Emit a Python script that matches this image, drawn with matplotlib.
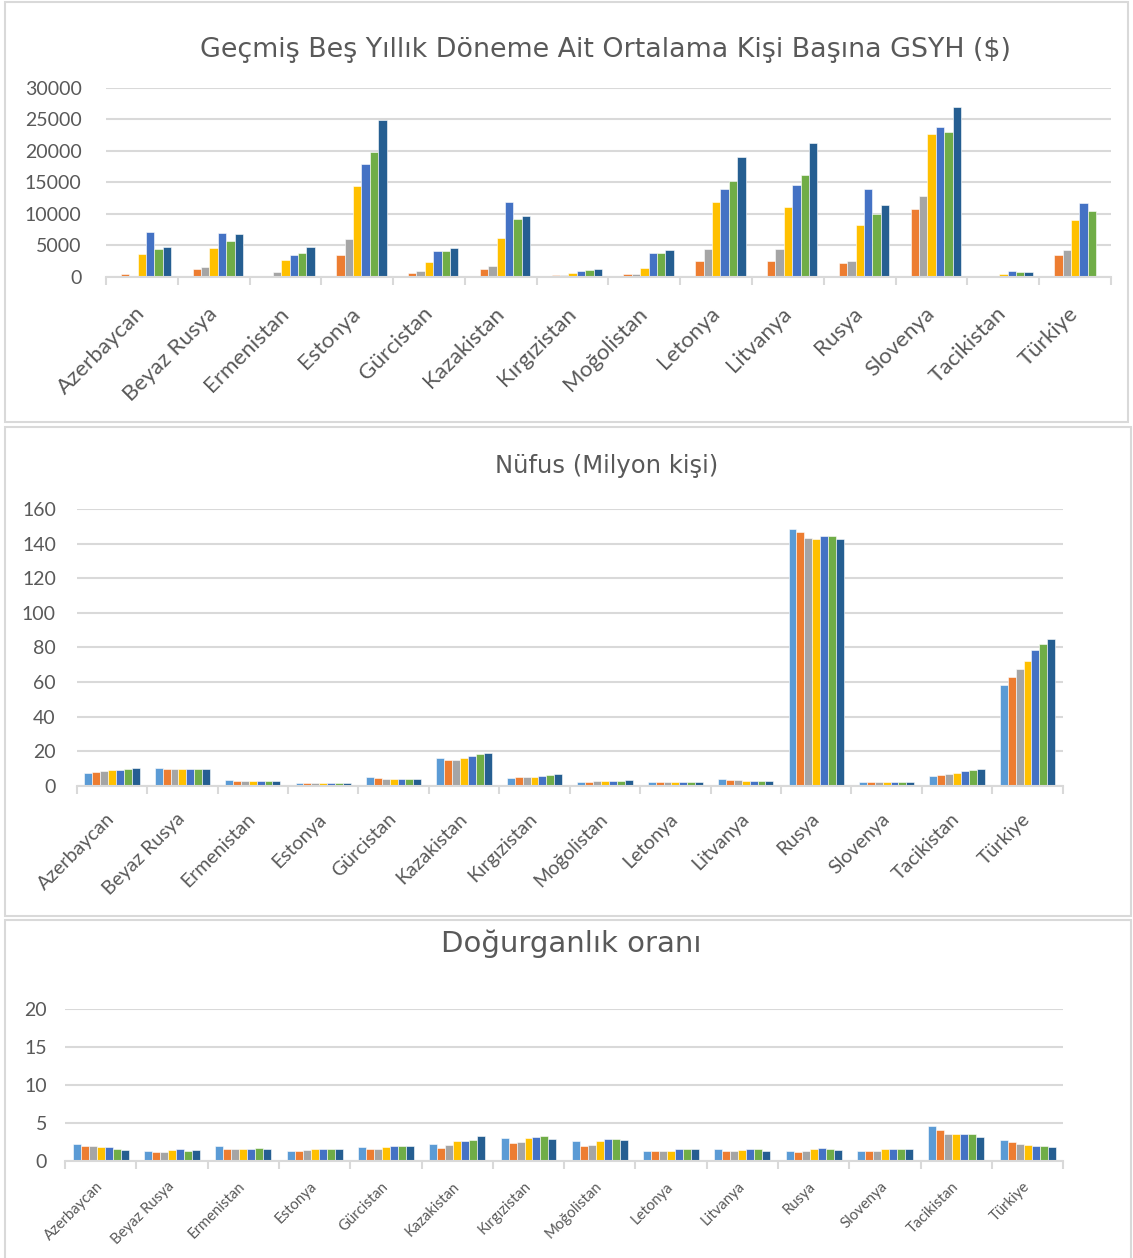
import numpy as np
import matplotlib.pyplot as plt
from matplotlib.patches import Rectangle

ulkeler = ['Azerbaycan', 'Beyaz Rusya', 'Ermenistan', 'Estonya', 'Gürcistan', 'Kazakistan',
           'Kırgızistan', 'Moğolistan', 'Letonya', 'Litvanya', 'Rusya', 'Slovenya',
           'Tacikistan', 'Türkiye']

renkler = ['#5B9BD5', '#ED7D31', '#A5A5A5', '#FFC000', '#4472C4', '#70AD47', '#255E91']

# Kişi başına GSYH ($), her dönem için bir seri (ilk dönem boş)
gsyh_d1 = [0, 0, 0, 0, 0, 0, 0, 0, 0, 0, 0, 0, 0, 0]
gsyh_d2 = [420, 1320, 0, 3550, 580, 1220, 270, 480, 2590, 2590, 2170, 10850, 60, 3440]
gsyh_d3 = [0, 1530, 790, 5980, 900, 1750, 270, 480, 4390, 4440, 2590, 12860, 100, 4230]
gsyh_d4 = [3650, 4600, 2700, 14440, 2330, 6140, 580, 1380, 11850, 11160, 8200, 22700, 420, 9000]
gsyh_d5 = [7090, 7040, 3550, 17830, 4070, 11850, 1000, 3760, 13920, 14550, 14020, 23760, 900, 11690]
gsyh_d6 = [4440, 5660, 3760, 19840, 4180, 9260, 1060, 3760, 15290, 16240, 10000, 23020, 790, 10420]
gsyh_d7 = [4710, 6830, 4710, 24920, 4550, 9680, 1220, 4230, 18940, 21220, 11380, 26930, 790, 0]

# Nüfus (milyon kişi)
nufus_d1 = [7.4, 10.2, 3.2, 1.4, 4.8, 15.9, 4.5, 2.2, 2.4, 3.6, 148.2, 2.0, 5.5, 58.4]
nufus_d2 = [8.0, 9.8, 3.0, 1.4, 4.3, 14.9, 4.9, 2.4, 2.3, 3.5, 146.6, 2.0, 6.2, 63.0]
nufus_d3 = [8.4, 9.8, 3.0, 1.3, 4.1, 15.1, 5.1, 2.5, 2.2, 3.3, 143.5, 2.0, 6.7, 67.6]
nufus_d4 = [8.9, 9.5, 3.0, 1.3, 3.8, 16.3, 5.2, 2.6, 2.1, 3.0, 142.8, 2.0, 7.3, 71.9]
nufus_d5 = [9.3, 9.5, 3.0, 1.3, 3.7, 17.3, 5.8, 2.8, 2.0, 2.9, 144.1, 2.0, 8.4, 78.4]
nufus_d6 = [9.7, 9.5, 2.9, 1.3, 3.7, 18.1, 6.2, 3.0, 1.9, 2.8, 144.3, 2.1, 9.0, 81.9]
nufus_d7 = [10.1, 9.4, 2.9, 1.3, 3.7, 18.9, 6.6, 3.1, 1.9, 2.8, 142.4, 2.1, 9.6, 84.6]

# Doğurganlık oranı
dogurganlik_d1 = [2.2, 1.3, 2.0, 1.3, 1.85, 2.2, 3.0, 2.65, 1.25, 1.5, 1.25, 1.25, 4.6, 2.75]
dogurganlik_d2 = [1.95, 1.2, 1.5, 1.3, 1.5, 1.7, 2.3, 2.0, 1.25, 1.3, 1.15, 1.25, 4.0, 2.4]
dogurganlik_d3 = [1.95, 1.2, 1.6, 1.4, 1.6, 2.1, 2.4, 2.1, 1.3, 1.25, 1.25, 1.25, 3.55, 2.2]
dogurganlik_d4 = [1.8, 1.4, 1.6, 1.6, 1.85, 2.55, 3.0, 2.55, 1.3, 1.4, 1.5, 1.5, 3.55, 2.1]
dogurganlik_d5 = [1.8, 1.6, 1.6, 1.5, 1.95, 2.65, 3.15, 2.8, 1.6, 1.6, 1.7, 1.5, 3.55, 2.0]
dogurganlik_d6 = [1.55, 1.3, 1.7, 1.6, 2.0, 2.75, 3.25, 2.8, 1.5, 1.5, 1.5, 1.5, 3.55, 2.0]
dogurganlik_d7 = [1.4, 1.4, 1.5, 1.5, 2.0, 3.25, 2.8, 2.75, 1.5, 1.25, 1.4, 1.5, 3.15, 1.85]

gsyh = [gsyh_d1, gsyh_d2, gsyh_d3, gsyh_d4, gsyh_d5, gsyh_d6, gsyh_d7]
nufus = [nufus_d1, nufus_d2, nufus_d3, nufus_d4, nufus_d5, nufus_d6, nufus_d7]
dogurganlik = [dogurganlik_d1, dogurganlik_d2, dogurganlik_d3, dogurganlik_d4,
               dogurganlik_d5, dogurganlik_d6, dogurganlik_d7]

W, H = 1133, 1258
fig = plt.figure(figsize=(W / 100, H / 100), dpi=100)
fig.patch.set_facecolor('white')

gri = '#D9D9D9'
yazi = '#595959'


def px_axes(x0, y0, x1, y1):
    # piksel koordinatlarını (üstten) figür koordinatlarına çevir
    return fig.add_axes([x0 / W, 1 - y1 / H, (x1 - x0) / W, (y1 - y0) / H])


def cerceve(x0, y0, x1, y1):
    fig.patches.append(Rectangle((x0 / W, 1 - y1 / H), (x1 - x0) / W, (y1 - y0) / H,
                                 transform=fig.transFigure, fill=False,
                                 edgecolor=gri, linewidth=1.5))


def grafik(ax, seriler, ymax, adim, bar_w, etiket_boyu, etiket_pad, y_pad):
    n = len(ulkeler)
    x = np.arange(n)
    k = len(seriler)
    for i, s in enumerate(seriler):
        ofs = (i - (k - 1) / 2) * bar_w
        ax.bar(x + ofs, s, width=bar_w, color=renkler[i], edgecolor='white',
               linewidth=0.4, zorder=3)
    ax.set_xlim(-0.5, n - 0.5)
    ax.set_ylim(0, ymax)
    ax.set_yticks(np.arange(0, ymax + 1, adim))
    ax.yaxis.grid(True, color=gri, linewidth=1.5, zorder=0)
    ax.set_axisbelow(True)
    for sp in ['top', 'right', 'left']:
        ax.spines[sp].set_visible(False)
    ax.spines['bottom'].set_color(gri)
    ax.spines['bottom'].set_linewidth(1.5)
    ax.spines['bottom'].set_zorder(4)
    ax.set_xticks(x)
    ax.set_xticklabels(ulkeler, rotation=45, ha='right', va='center',
                       rotation_mode='anchor', fontsize=etiket_boyu,
                       color=yazi, family='Lato')
    ax.set_xticks(np.arange(-0.5, n, 1), minor=True)
    ax.tick_params(axis='x', which='major', length=0, pad=etiket_pad)
    ax.tick_params(axis='x', which='minor', length=6, width=1.5, color=gri)
    ax.tick_params(axis='y', length=0, pad=y_pad, labelsize=14, labelcolor=yazi)
    for t in ax.get_yticklabels():
        t.set_family('Lato')


# Panel 1: kişi başına GSYH
cerceve(5.5, 2, 1128, 422)
ax1 = px_axes(106, 87.7, 1111, 277)
grafik(ax1, gsyh, 30000, 5000, 0.117, 16, 24, 17.5)
fig.text(606 / W, 1 - 50 / H, 'Geçmiş Beş Yıllık Döneme Ait Ortalama Kişi Başına GSYH ($)',
         ha='center', va='center', fontsize=19.4, color=yazi, family='DejaVu Sans')

# Panel 2: nüfus
cerceve(5.5, 427, 1131, 916)
ax2 = px_axes(76.7, 509, 1062.7, 785.7)
grafik(ax2, nufus, 160, 20, 0.112, 14, 22, 15)
fig.text(607 / W, 1 - 466 / H, 'Nüfus (Milyon kişi)',
         ha='center', va='center', fontsize=17.5, color=yazi, family='DejaVu Sans')

# Panel 3: doğurganlık oranı
cerceve(5.5, 920, 1131, 1262)
ax3 = px_axes(65, 1009, 1063.3, 1160.7)
grafik(ax3, dogurganlik, 20, 5, 0.112, 10.7, 17, 13)
fig.text(571 / W, 1 - 944 / H, 'Doğurganlık oranı',
         ha='center', va='center', fontsize=21, color=yazi, family='DejaVu Sans')

fig.savefig('out.png', dpi=100)
